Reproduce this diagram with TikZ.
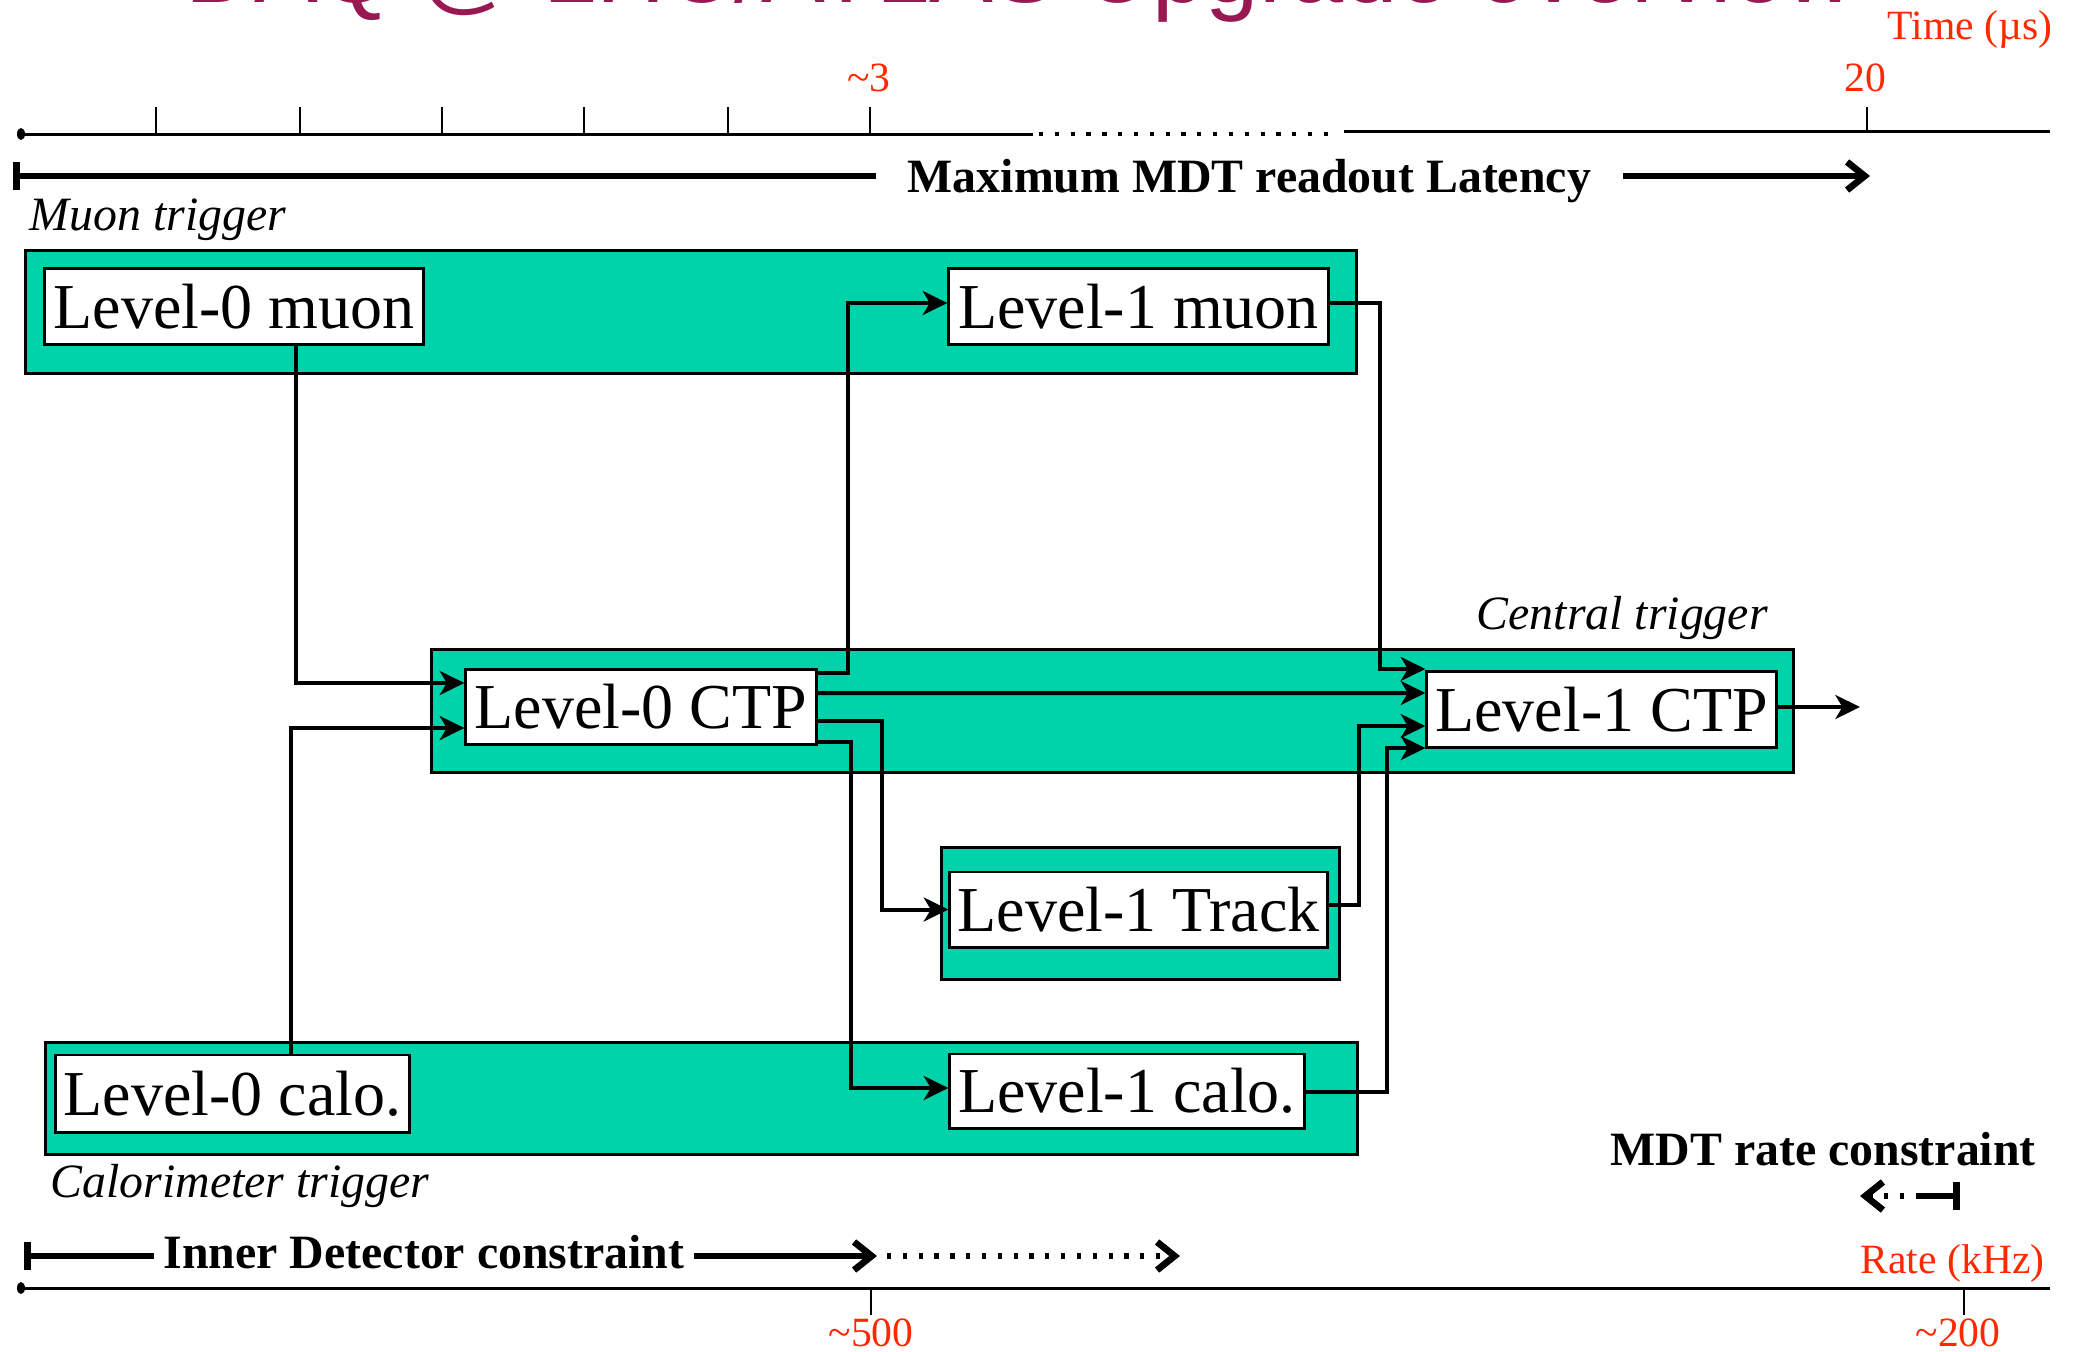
\documentclass[tikz,border=0pt]{standalone}
\usepackage{fontspec}
\setmainfont{Liberation Serif}
\newfontfamily\titlefont{Liberation Sans}
\usepackage{tikz}
\usetikzlibrary{arrows.meta}
\usepackage{xcolor}

\definecolor{trigGreen}{RGB}{0,210,170}
\definecolor{scaleRed}{RGB}{255,40,0}
\definecolor{titlePurple}{RGB}{152,24,82}

\begin{document}
\begin{tikzpicture}[
  x=0.01cm, y=-0.01cm,
  >={Stealth[length=7pt,width=6.8pt,inset=2pt]},
  group/.style={draw=black, line width=0.85pt, fill=trigGreen, inner sep=0pt},
  stage/.style={draw=black, line width=0.85pt, fill=white, inner sep=0pt,
    font=\fontsize{18.2}{21}\selectfont},
  link/.style={line width=1.14pt, ->},
  grouplabel/.style={font=\fontsize{13.6}{15}\selectfont\itshape, anchor=base west, inner sep=0pt},
  constraint/.style={font=\fontsize{13.6}{15}\selectfont\bfseries, anchor=base west, inner ysep=0pt},
  scalelabel/.style={font=\fontsize{11.84}{13}\selectfont, text=scaleRed, inner sep=0pt},
  axisline/.style={line width=0.85pt},
  scaletick/.style={line width=0.45pt},
  dotline/.style={line width=1pt, dash pattern=on 1.2pt off 3.3pt},
  spanline/.style={line width=1.9pt},
  barb/.style={-{Straight Barb[length=5pt,width=8pt,line width=1.9pt]}}
]

% Frame (in pixel units of the slide)
\useasboundingbox (0,0) rectangle (2076,1351);
\clip (0,0) rectangle (2076,1351);

% --- Slide title (cut by the top edge) ---
\node[anchor=base west, inner sep=0pt, text=titlePurple,
  font=\titlefont\fontsize{27.2}{30}\selectfont] (title) at (185,2)
  {DAQ @ LHC/ATLAS Upgrade overview};

% --- Time axis ---
\fill (21,134) ellipse [x radius=0.04cm, y radius=0.06cm];
\draw[axisline] (21,134) -- (1033,134);
\draw[axisline, dotline] (1039,134) -- (1337,134);
\draw[axisline] (1344,131) -- (2050,131);
\foreach \x in {156,300,442,584,728,870}
  \draw[scaletick] (\x,107) -- (\x,134);
\draw[scaletick] (1867,107) -- (1867,131);

\node[scalelabel, anchor=base] (t3) at (869,91) {\textasciitilde3};
\node[scalelabel, anchor=base] (t20) at (1865,91) {20};
\node[scalelabel, anchor=base west] (tunit) at (1887,39) {Time (µs)};

% --- Latency span ---
\node[constraint, inner xsep=0.31cm] (maxlat) at (876,192) {Maximum MDT readout Latency};
\coordinate (latstart) at (13,176);
\coordinate (latend) at (1870,176);
\draw[spanline, {Bar[width=8pt]}-] (latstart) -- (latstart -| maxlat.west);
\draw[spanline, barb] (latend -| maxlat.east) -- (latend);

% --- Trigger groups ---
\node[group, minimum width=13.30cm, minimum height=1.22cm] (muongrp) at (691,312) {};
\node[group, minimum width=13.61cm, minimum height=1.22cm] (centgrp) at (1112.5,711) {};
\node[group, minimum width=3.97cm, minimum height=1.31cm] (trackgrp) at (1140.5,913.5) {};
\node[group, minimum width=13.11cm, minimum height=1.11cm] (calogrp) at (701.5,1098.5) {};

\node[grouplabel] (muonlbl) at (29,230) {Muon trigger};
\node[grouplabel] (centlbl) at (1476,629) {Central trigger};
\node[grouplabel] (calolbl) at (50,1197) {Calorimeter trigger};

% --- Trigger stages ---
\node[stage, minimum width=3.78cm, minimum height=0.75cm] (l0muon) at (234,306.5) {Level-0 muon};
\node[stage, minimum width=3.79cm, minimum height=0.75cm] (l1muon) at (1138.5,306.5) {Level-1 muon};
\node[stage, minimum width=3.50cm, minimum height=0.74cm] (l0ctp) at (641,707) {Level-0 CTP};
\node[stage, minimum width=3.49cm, minimum height=0.75cm] (l1ctp) at (1601.5,709.5) {Level-1 CTP};
\node[stage, minimum width=3.77cm, minimum height=0.75cm] (l1track) at (1138.5,909.5) {Level-1 Track};
\node[stage, minimum width=3.53cm, minimum height=0.77cm] (l0calo) at (232.5,1093.5) {Level-0 calo.};
\node[stage, minimum width=3.54cm, minimum height=0.74cm] (l1calo) at (1127,1091) {Level-1 calo.};

% --- Level-0 inputs ---
\draw[link] ([xshift=0.62cm]l0muon.south) |- ([yshift=0.24cm]l0ctp.west);
\draw[link] ([xshift=0.585cm]l0calo.north) |- ([yshift=-0.21cm]l0ctp.west);

% --- Level-0 CTP outputs ---
\draw[link] ([yshift=0.34cm]l0ctp.east) -- ++(0.30cm,0) |- ([yshift=0.035cm]l1muon.west);
\draw[link] ([yshift=0.14cm]l0ctp.east) -- ([yshift=0.165cm]l1ctp.west);
\draw[link] ([yshift=-0.14cm]l0ctp.east) -- ++(0.64cm,0) |- (l1track.west);
\draw[link] ([yshift=-0.35cm]l0ctp.east) -- ++(0.33cm,0) |- ([yshift=0.03cm]l1calo.west);

% --- Level-1 inputs to CTP ---
\draw[link] ([yshift=0.035cm]l1muon.east) -- ++(0.50cm,0) |- ([yshift=0.405cm]l1ctp.west);
\draw[link] ([yshift=0.045cm]l1track.east) -- ++(0.30cm,0) |- ([yshift=-0.165cm]l1ctp.west);
\draw[link] ([yshift=-0.01cm]l1calo.east) -- ++(0.81cm,0) |- ([yshift=-0.385cm]l1ctp.west);

% --- Level-1 accept ---
\coordinate (ctpout) at (1860,707);
\draw[link] (l1ctp.east |- ctpout) -- (ctpout);

% --- Rate constraints ---
\node[constraint, inner xsep=0pt] (mdtrate) at (1610,1165) {MDT rate constraint};
\coordinate (ratestart) at (1960,1196);
\coordinate (ratemid) at (1920,1196);
\coordinate (rateend) at (1860,1196);
\draw[spanline, {Bar[width=8pt]}-] (ratestart) -- (ratemid);
\draw[dotline, line width=1.6pt, barb] (ratemid) -- (rateend);

\node[constraint, inner xsep=0.09cm] (idcons) at (154,1268) {Inner Detector constraint};
\coordinate (idstart) at (24,1256);
\coordinate (idmid) at (877,1256);
\coordinate (idend) at (1180,1256);
\draw[spanline, {Bar[width=8pt]}-] (idstart) -- (idstart -| idcons.west);
\draw[spanline, barb] (idstart -| idcons.east) -- (idmid);
\draw[dotline, line width=1.6pt, barb] ([xshift=0.1cm]idmid) -- (idend);

% --- Rate axis ---
\fill (21,1288) ellipse [x radius=0.04cm, y radius=0.06cm];
\draw[axisline] (21,1288) -- (2050,1288);
\foreach \x in {871,1964}
  \draw[scaletick] (\x,1288) -- (\x,1315);

\node[scalelabel, anchor=base west] (runit) at (1860,1273) {Rate (kHz)};
\node[scalelabel, anchor=base] (r500) at (871,1346) {\textasciitilde500};
\node[scalelabel, anchor=base] (r200) at (1958,1346) {\textasciitilde200};

\end{tikzpicture}
\end{document}
